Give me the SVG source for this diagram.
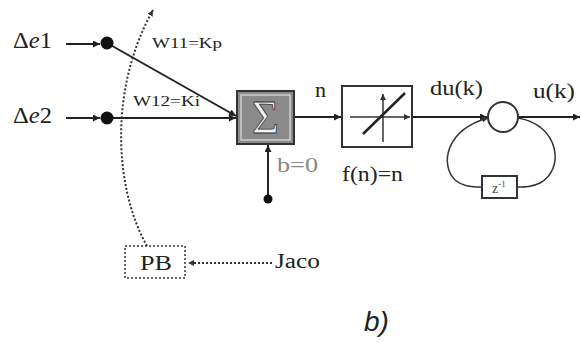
<svg xmlns="http://www.w3.org/2000/svg" width="581" height="343" viewBox="0 0 581 343">
<defs>
<marker id="ah" viewBox="0 0 10 10" refX="10" refY="5" markerWidth="7" markerHeight="7" orient="auto" markerUnits="userSpaceOnUse"><path d="M0,0 L10,5 L0,10 z" fill="#222"/></marker>
<marker id="ahs" viewBox="0 0 10 10" refX="10" refY="5" markerWidth="6" markerHeight="6" orient="auto" markerUnits="userSpaceOnUse"><path d="M0,0 L10,5 L0,10 z" fill="#333"/></marker>
</defs>
<style>
.ln{stroke:#222;stroke-width:2;fill:none}
.thin{stroke:#333;stroke-width:1.5;fill:none}
.dot{stroke:#333;stroke-width:2;fill:none;stroke-dasharray:2 2}
</style>
<rect width="581" height="343" fill="#fff"/>
<g id="connectors">
<line class="ln" x1="66" y1="44" x2="100" y2="44" marker-end="url(#ah)"/>
<line class="ln" x1="66" y1="118" x2="100" y2="118" marker-end="url(#ah)"/>
<line class="ln" x1="107" y1="43" x2="236" y2="116" marker-end="url(#ah)"/>
<line class="ln" x1="107" y1="118" x2="236" y2="118" marker-end="url(#ah)"/>
<path class="dot" d="M147,246 C115,190 108,90 153,10" marker-end="url(#ahs)"/>
<line class="dot" x1="272" y1="263" x2="188" y2="263" marker-end="url(#ahs)"/>
<line class="ln" x1="294" y1="117" x2="341" y2="117" marker-end="url(#ah)"/>
<line class="ln" x1="268" y1="198" x2="268" y2="145" marker-end="url(#ah)"/>
<line class="ln" x1="412" y1="117" x2="487" y2="117" marker-end="url(#ah)"/>
<line class="ln" x1="518" y1="117" x2="580" y2="117" marker-end="url(#ah)"/>
<path class="thin" d="M518,118 C560,125 565,170 540,183 C532,187 525,187 517,187"/>
<path class="thin" d="M482,187 C470,187 462,186 455,180 C440,165 445,130 488,118" marker-end="url(#ahs)"/>
</g>
<g font-family="Liberation Serif, Times New Roman, DejaVu Serif, serif" fill="#222">
<g id="in1">
<text x="13" y="48" font-size="24" textLength="39" lengthAdjust="spacingAndGlyphs">Δ<tspan font-style="italic">e</tspan>1</text>
<circle cx="107" cy="43" r="6.5" fill="#111"/>
</g>
<g id="in2">
<text x="13" y="123" font-size="24" textLength="39" lengthAdjust="spacingAndGlyphs">Δ<tspan font-style="italic">e</tspan>2</text>
<circle cx="107" cy="118" r="6.5" fill="#111"/>
</g>
<g id="weights">
<text x="152" y="48" font-size="15" textLength="70" lengthAdjust="spacingAndGlyphs">W11=Kp</text>
<text x="133" y="106" font-size="15" textLength="67" lengthAdjust="spacingAndGlyphs">W12=Ki</text>
</g>
<g id="sum">
<rect x="237" y="91" width="57" height="53" fill="#8a8a8a" stroke="#333" stroke-width="2"/>
<rect x="241" y="95" width="49" height="45" fill="none" stroke="#d0d0d0" stroke-width="1.5"/>
<text x="265.5" y="133" font-size="46" text-anchor="middle" fill="#f2f2f2" stroke="#333" stroke-width="0.8">Σ</text>
</g>
<g id="bias">
<circle cx="268" cy="199" r="4.5" fill="#111"/>
<text x="277" y="172" font-size="21" fill="#888" textLength="41" lengthAdjust="spacingAndGlyphs">b=0</text>
</g>
<g id="labels">
<text x="315" y="97" font-size="20" textLength="11" lengthAdjust="spacingAndGlyphs">n</text>
<text x="342" y="181" font-size="20" textLength="61" lengthAdjust="spacingAndGlyphs">f(n)=n</text>
<text x="430" y="95" font-size="20" textLength="53" lengthAdjust="spacingAndGlyphs">du(k)</text>
<text x="533" y="98" font-size="20" textLength="42" lengthAdjust="spacingAndGlyphs">u(k)</text>
</g>
<g id="linear">
<rect x="342" y="86" width="70" height="61" fill="#fff" stroke="#333" stroke-width="2"/>
<line class="thin" x1="350" y1="117" x2="410" y2="117" marker-end="url(#ahs)"/>
<line class="thin" x1="383" y1="142" x2="383" y2="94" marker-end="url(#ahs)"/>
<line x1="363" y1="134" x2="405" y2="93" stroke="#222" stroke-width="2.5"/>
</g>
<g id="adder">
<circle cx="503" cy="117" r="15" fill="#fff" stroke="#333" stroke-width="2"/>
</g>
<g id="delay">
<rect x="482" y="176" width="35" height="22" fill="#fff" stroke="#333" stroke-width="2"/>
<text x="492" y="193" font-size="14" fill="#444">z<tspan font-size="9" dy="-6">-1</tspan></text>
</g>
<g id="pb">
<rect x="125" y="246" width="60" height="32" fill="#fff" stroke="#333" stroke-width="1.5" stroke-dasharray="2 2"/>
<text x="140" y="270" font-size="22" textLength="32" lengthAdjust="spacingAndGlyphs">PB</text>
</g>
<g id="jaco">
<text x="275" y="268" font-size="20" textLength="45" lengthAdjust="spacingAndGlyphs">Jaco</text>
</g>
<text x="364" y="331" font-size="28" font-style="italic" font-family="Liberation Sans, Arial, sans-serif">b)</text>
</g>
</svg>
